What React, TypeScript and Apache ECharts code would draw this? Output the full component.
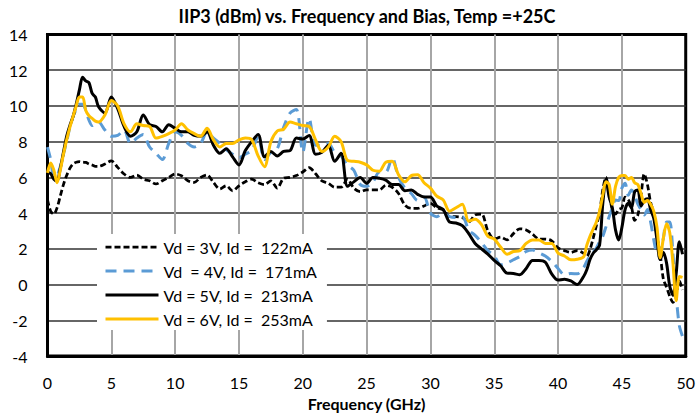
import { useEffect, useRef } from "react";
import * as echarts from "echarts";

const TITLE = "IIP3 (dBm) vs. Frequency and Bias, Temp =+25C";
const X_NAME = "Frequency (GHz)";
const LEGEND_NAMES = [
  "Vd = 3V, Id =  122mA",
  "Vd  = 4V, Id =  171mA",
  "Vd = 5V, Id =  213mA",
  "Vd = 6V, Id =  253mA",
];

const FREQ = [
  0, 0.25, 0.5, 0.75, 1, 1.25, 1.5, 1.75, 2, 2.25, 2.5, 2.75, 3, 3.25, 3.5, 3.75, 4,
  4.5, 5, 5.5, 6, 6.5, 7, 7.5, 8, 8.5, 9,
  9.5, 10, 10.5, 11, 11.5, 12, 12.5, 13, 13.5, 14,
  14.5, 15, 15.5, 16, 16.5, 17, 17.5, 18, 18.5, 19,
  19.5, 20, 20.5, 21, 21.5, 22, 22.5, 23, 23.5, 24,
  24.5, 25, 25.5, 26, 26.5, 27, 27.5, 28, 28.5, 29,
  29.5, 30, 30.5, 31, 31.5, 32, 32.5, 33, 33.5, 34,
  34.5, 35, 35.5, 36, 36.5, 37, 37.5, 38, 38.5, 39,
  39.5, 40, 40.5, 41, 41.5, 42,
  42.25, 42.5, 42.75, 43, 43.25, 43.5, 43.75, 44, 44.25, 44.5,
  44.75, 45, 45.25, 45.5, 45.75, 46, 46.25, 46.5, 46.75, 47,
  47.25, 47.5, 47.75, 48, 48.25, 48.5, 48.75, 49, 49.25, 49.5, 49.75,
];

// Vd = 3V
const V3 = [
  4.75, 4.1, 3.95, 4.3, 4.95, 5.6, 6.1, 6.5, 6.75, 6.85, 6.88, 6.85, 6.84, 6.75, 6.69, 6.62, 6.62,
  6.75, 6.93, 6.56, 6.19, 6.0, 6.13, 5.9, 5.81, 5.63, 5.81,
  6.0, 6.19, 6.09, 5.81, 5.72, 6.0, 6.13, 5.72, 5.35, 5.53,
  5.25, 5.53, 5.76, 5.9, 5.7, 5.6, 5.8, 5.4, 5.95, 6.0,
  6.1, 6.3, 6.55, 6.2, 5.8, 5.67, 5.45, 5.45, 5.9, 5.4,
  5.2, 5.3, 5.3, 5.3, 5.55, 5.45, 5.1, 4.45, 4.27, 4.27,
  4.4, 4.55, 4.3, 4.18, 3.8, 3.8, 3.75, 3.5, 3.9, 3.95,
  3.0, 2.55, 2.65, 2.5, 2.85, 3.12, 3.06, 2.82, 2.55, 2.55,
  2.45, 2.05, 1.9, 1.8, 1.9, 1.75,
  1.57, 1.95, 2.6, 3.3, 4.0, 5.3, 6.0, 5.1, 4.2, 3.95,
  4.2, 4.3, 4.9, 4.75, 4.35, 3.6, 3.9, 5.0, 6.2, 5.6,
  4.6, 4.0, 2.7, 1.7, 0.3, -0.15, -0.66, -1.0, -0.6, 0.2, -0.3,
];

// Vd = 4V
const V4 = [
  7.7, 7.0, 6.05, 6.1, 6.6, 7.3, 8.0, 8.8, 9.4, 9.8, 10.1, 10.1, 9.75, 9.2, 8.9, 9.0, 9.1,
  8.65, 8.3, 8.35, 8.65, 7.9, 8.2, 8.4, 7.7, 7.35, 7.0,
  7.9, 8.55, 8.35, 7.9, 7.7, 7.9, 8.55, 8.2, 7.9, 7.55,
  7.3, 7.1, 7.3, 7.5, 8.3, 7.0, 7.4, 7.6, 8.8, 9.6,
  9.8, 7.4, 9.3, 7.8, 7.8, 7.9, 7.4, 7.2, 6.7, 6.4,
  5.6, 5.5, 5.75, 6.3, 6.3, 7.1, 6.0, 5.4, 5.1, 4.7,
  4.9, 4.0, 3.8, 4.0, 3.8, 3.75, 3.8, 3.06, 2.75, 2.35,
  1.9, 1.6, 1.1, 1.2, 1.39, 1.57, 1.85, 1.94, 1.78, 1.6,
  1.3, 0.9, 0.55, 0.62, 0.6, 0.95,
  1.3, 1.6, 1.8, 2.05, 2.4, 2.7, 3.24, 3.8, 4.3, 4.73,
  4.7, 5.4, 5.67, 5.0, 5.3, 5.0, 4.5, 4.2, 3.9, 4.2,
  3.5, 2.5, 1.7, 1.6, 2.6, 3.5, 3.5, 1.7, -0.6, -2.3, -2.9,
];

// Vd = 5V
const V5 = [
  6.3, 6.2, 5.9, 5.8, 6.5, 7.4, 8.3, 8.9, 9.4, 10.1, 10.9, 11.6, 11.4, 11.3, 10.7, 10.5, 9.95,
  9.6, 10.5, 9.85, 8.85, 8.3, 8.55, 9.5, 8.95, 8.85, 8.55,
  8.95, 8.75, 8.55, 8.55, 8.35, 8.3, 8.55, 7.8, 7.35, 7.6,
  7.15, 6.7, 7.5, 8.0, 8.4, 7.15, 7.45, 7.2, 7.45, 7.5,
  8.2, 8.15, 8.35, 7.3, 7.4, 7.8, 6.9, 7.35, 5.5, 5.75,
  6.0, 5.67, 6.0, 5.95, 5.85, 5.6, 5.6, 5.25, 5.3, 5.05,
  4.9, 4.9, 4.4, 4.2, 3.5, 3.45, 3.3, 2.85, 2.3, 2.0,
  1.7, 1.35, 1.05, 0.64, 0.62, 0.55, 0.9, 1.35, 1.35, 1.25,
  0.6, 0.25, 0.3, 0.2, 0.0, 0.45,
  0.83, 1.4, 1.75, 1.95, 2.2, 4.5, 5.9, 4.9, 4.3, 3.06,
  2.5, 3.2, 4.2, 4.55, 4.3, 5.2, 5.3, 4.4, 4.7, 4.8,
  4.2, 3.7, 2.5, 1.4, 1.8, 1.2, -0.1, -0.6, 0.6, 2.4, 1.7,
];

// Vd = 6V
const V6 = [
  6.25, 6.8, 6.4, 5.7, 6.4, 7.3, 8.1, 8.8, 9.4, 10.0, 10.5, 10.5, 9.75, 9.45, 9.3, 9.15, 9.1,
  9.5, 10.3, 10.0, 9.0, 8.55, 9.0, 8.9, 8.85, 8.2, 8.3,
  8.45, 8.65, 9.0, 8.65, 8.45, 8.3, 8.75, 8.1, 7.7, 7.9,
  7.9, 8.1, 8.2, 8.1, 7.2, 6.6, 8.0, 8.6, 8.7, 9.1,
  9.0, 8.9, 8.85, 8.1, 7.45, 7.7, 8.3, 8.0, 6.95, 6.9,
  6.85, 6.7, 6.4, 6.35, 6.85, 6.9, 6.15, 5.75, 6.1, 6.15,
  5.7, 5.4, 4.95, 4.74, 4.1, 4.3, 4.5, 3.55, 3.65, 3.35,
  2.7, 2.55, 2.1, 1.7, 1.85, 1.9, 2.3, 2.5, 2.5, 2.3,
  2.3, 1.76, 1.6, 1.39, 1.42, 1.55,
  2.2, 2.7, 3.1, 3.5, 4.1, 5.0, 5.75, 5.6, 4.5, 5.5,
  6.0, 6.1, 6.1, 5.9, 6.0, 5.7, 5.6, 5.1, 4.6, 4.7,
  4.5, 4.1, 3.2, 1.5, 2.6, 3.4, 2.9, 1.2, -0.9, 0.45, 0.4,
];

const FONT = "Lato, 'Liberation Sans', sans-serif";

export default function App() {
  const ref = useRef<HTMLDivElement>(null);
  useEffect(() => {
    if (!ref.current) return;
    const chart = echarts.init(ref.current, null, { renderer: "svg" });
    const mk = (v: number[]) => FREQ.map((f, i) => [f, v[i]]);
    const styles = [
      { color: "#000000", width: 2.75, type: [6, 3] },
      { color: "#5B9BD5", width: 3, type: [11, 7] },
      { color: "#000000", width: 3, type: "solid" },
      { color: "#FFC000", width: 3, type: "solid" },
    ];
    const values = [V3, V4, V5, V6];
    chart.setOption({
      animation: false,
      title: {
        text: TITLE,
        left: 367,
        top: 7,
        padding: 0,
        textAlign: "center",
        textStyle: { fontFamily: FONT, fontSize: 18, fontWeight: "bold", color: "#000" },
      },
      grid: {
        left: 47.5,
        right: 11.5,
        top: 34.5,
        bottom: 61,
        show: true,
        borderColor: "#000",
        borderWidth: 3,
        backgroundColor: "transparent",
      },
      xAxis: {
        type: "value",
        min: 0,
        max: 50,
        interval: 5,
        name: X_NAME,
        nameLocation: "middle",
        nameGap: 39,
        nameTextStyle: { fontFamily: FONT, fontSize: 16, fontWeight: "bold", color: "#000" },
        axisLine: { show: true, onZero: false, lineStyle: { color: "#000", width: 3 } },
        axisTick: { show: false },
        axisLabel: { margin: 18, fontFamily: FONT, fontSize: 16, color: "#000" },
        splitLine: {
          show: true,
          showMinLine: false,
          showMaxLine: false,
          lineStyle: { color: "#a6a6a6", width: 2 },
        },
      },
      yAxis: {
        type: "value",
        min: -4,
        max: 14,
        interval: 2,
        axisLine: { show: true, onZero: false, lineStyle: { color: "#000", width: 3 } },
        axisTick: { show: false },
        axisLabel: { margin: 20, fontFamily: FONT, fontSize: 16, color: "#000" },
        splitLine: {
          show: true,
          showMinLine: false,
          showMaxLine: false,
          lineStyle: { color: "#333", width: 1.5 },
        },
      },
      legend: {
        orient: "vertical",
        left: 97,
        top: 234,
        backgroundColor: "#fff",
        padding: [5, 10, 3, 7],
        itemWidth: 53,
        itemHeight: 20,
        itemGap: 8,
        itemStyle: { color: "rgba(0,0,0,0)", borderWidth: 0 },
        lineStyle: { width: "inherit" },
        textStyle: { fontFamily: FONT, fontSize: 16, color: "#000" },
        data: LEGEND_NAMES,
      },
      series: LEGEND_NAMES.map((name, i) => ({
        name,
        type: "line",
        data: mk(values[i]),
        symbol: "none",
        showSymbol: false,
        smooth: 0.3,
        color: styles[i].color,
        lineStyle: { color: styles[i].color, width: styles[i].width, type: styles[i].type },
        z: 2 + i,
      })),
    });
    return () => chart.dispose();
  }, []);
  return (
    <div
      ref={ref}
      style={{ position: "absolute", left: 0, top: 0, width: 698, height: 417 }}
    />
  );
}
